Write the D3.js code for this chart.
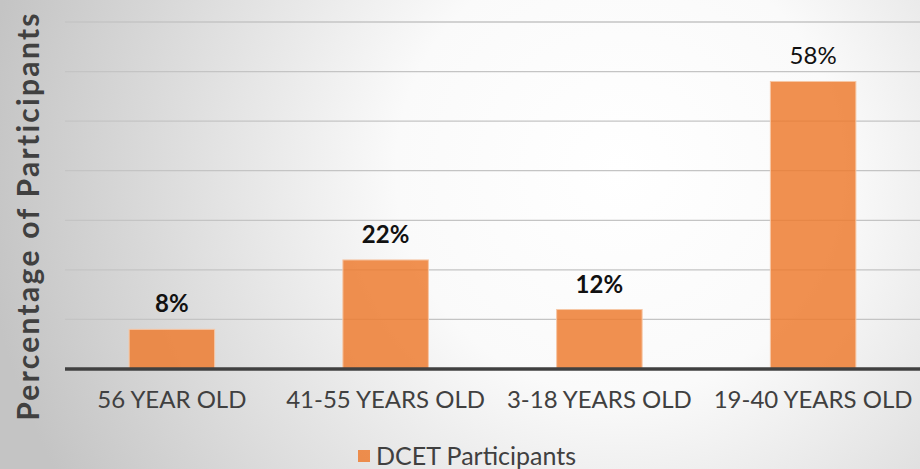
<!DOCTYPE html>
<html>
<head>
<meta charset="utf-8">
<script src="https://cdn.jsdelivr.net/npm/d3@7"></script>
<style>
  html, body { margin: 0; padding: 0; }
  svg { display: block; font-family: "Lato", "Open Sans", sans-serif; }
</style>
</head>
<body>
<svg></svg>
<script>
var categories = ["56 YEAR OLD", "41-55 YEARS OLD", "3-18 YEARS OLD", "19-40 YEARS OLD"];
var values = [8, 22, 12, 58];
var boldLabel = [true, true, true, false];
var gridTicks = [0, 10, 20, 30, 40, 50, 60, 70];
var seriesName = "DCET Participants";

var width = 920;
var height = 469;
var margin = {top: 22, right: 0, bottom: 100, left: 65};

var svg = d3.select('svg')
    .attr('width', width)
    .attr('height', height);

var defs = svg.append('defs');
var grad = defs.append('radialGradient')
    .attr('id', 'bg')
    .attr('gradientUnits', 'userSpaceOnUse')
    .attr('cx', 620).attr('cy', 170)
    .attr('r', 640);
grad.append('stop').attr('offset', '0%').attr('stop-color', '#ffffff');
grad.append('stop').attr('offset', '35%').attr('stop-color', '#fafafa');
grad.append('stop').attr('offset', '100%').attr('stop-color', '#c4c4c4');

svg.append('rect')
    .attr('width', width)
    .attr('height', height)
    .attr('fill', 'url(#bg)');

var x = d3.scaleBand()
    .domain(categories)
    .range([margin.left, width - margin.right])
    .paddingInner(0.6)
    .paddingOuter(0.3);

var y = d3.scaleLinear()
    .domain([0, 70])
    .range([height - margin.bottom, margin.top]);

// gridlines
svg.append('g')
  .selectAll('line')
  .data(gridTicks.slice(1))
  .enter()
  .append('line')
    .attr('x1', margin.left)
    .attr('x2', width)
    .attr('y1', d => y(d))
    .attr('y2', d => y(d))
    .attr('stroke', '#c4c4c4')
    .attr('stroke-width', 1.3);

// bars
svg.append('g')
  .selectAll('rect')
  .data(values)
  .enter()
  .append('rect')
    .attr('x', (d, i) => x(categories[i]))
    .attr('y', d => y(d))
    .attr('width', x.bandwidth())
    .attr('height', d => y(0) - y(d))
    .attr('fill', '#ed7d31')
    .attr('fill-opacity', 0.85)
    .attr('stroke', '#f6c7a6')
    .attr('stroke-width', 1);

// data labels
svg.append('g')
  .selectAll('text')
  .data(values)
  .enter()
  .append('text')
    .attr('x', (d, i) => x(categories[i]) + x.bandwidth() / 2)
    .attr('y', d => y(d) - 17)
    .attr('text-anchor', 'middle')
    .attr('font-size', 24)
    .attr('font-weight', (d, i) => boldLabel[i] ? 'bold' : 'normal')
    .attr('fill', '#111')
    .text(d => d + '%');

// category axis
var xAxis = d3.axisBottom(x).tickSize(0).tickPadding(22);
var axisG = svg.append('g')
    .attr('transform', 'translate(0,' + y(0) + ')')
    .call(xAxis);
axisG.select('.domain').remove();
axisG.selectAll('text')
    .attr('font-size', 24)
    .attr('font-family', '"Lato", "Open Sans", sans-serif')
    .attr('fill', '#404040');

svg.append('line')
    .attr('x1', margin.left)
    .attr('x2', width)
    .attr('y1', y(0))
    .attr('y2', y(0))
    .attr('stroke', '#404040')
    .attr('stroke-width', 3.5);

// y axis title
svg.append('text')
    .attr('transform', 'translate(39,' + 216 + ') rotate(-90)')
    .attr('text-anchor', 'middle')
    .attr('font-size', 30)
    .attr('font-weight', 'bold')
    .attr('letter-spacing', 2.3)
    .attr('fill', '#404040')
    .text('Percentage of Participants');

// legend
var legend = svg.append('g').attr('transform', 'translate(358,450)');
legend.append('rect')
    .attr('width', 12).attr('height', 12)
    .attr('fill', '#ed7d31')
    .attr('fill-opacity', 0.85);
legend.append('text')
    .attr('x', 18)
    .attr('y', 6)
    .attr('dy', '0.36em')
    .attr('font-size', 25)
    .attr('fill', '#404040')
    .text(seriesName);
</script>
</body>
</html>
